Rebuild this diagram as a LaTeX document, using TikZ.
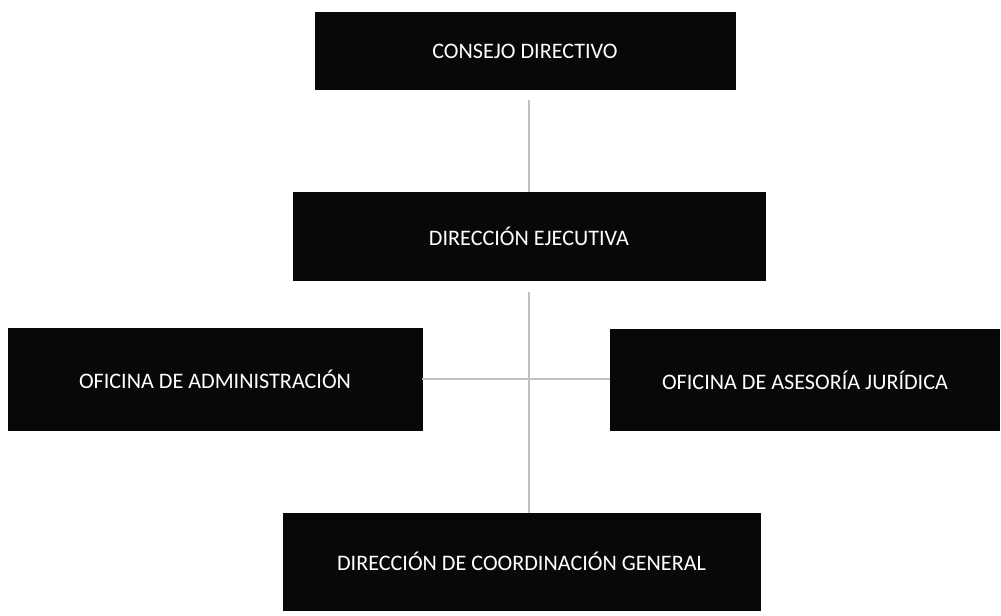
\documentclass[tikz,border=0pt]{standalone}
\usepackage{fontspec}
\setmainfont{Carlito}
\definecolor{orgblack}{RGB}{8, 8, 8}
\definecolor{linkgray}{RGB}{192, 192, 192}
\usetikzlibrary{positioning, calc}

\begin{document}
\begin{tikzpicture}
  \tikzset{
    orgbox/.style={draw=orgblack, fill=orgblack, text=white, inner sep=0pt, align=center,
      font=\fontsize{12.6}{14}\selectfont},
    link/.style={draw=linkgray, line width=1.6pt}
  }
  \useasboundingbox (0,0) rectangle (20.02,-12.32);

  % boxes
  \node[orgbox, minimum width=8.4cm, minimum height=1.54cm] (cd) at (10.5,-1.02) {CONSEJO DIRECTIVO};
  \node[orgbox, minimum width=9.44cm, minimum height=1.76cm] (de) at (10.58,-4.72) {DIRECCIÓN EJECUTIVA};
  \node[orgbox, minimum width=8.28cm, minimum height=2.04cm] (oa) at (4.3,-7.58) {OFICINA DE ADMINISTRACIÓN};
  \node[orgbox, minimum width=7.78cm, minimum height=2.02cm] (oaj) at (16.1,-7.6) {OFICINA DE ASESORÍA JURÍDICA};
  \node[orgbox, minimum width=9.54cm, minimum height=1.94cm] (dcg) at (10.43,-11.23) {DIRECCIÓN DE COORDINACIÓN GENERAL};

  % connectors
  \draw[link, shorten <=0.2cm] (cd.south -| de.north) -- (de.north);
  \draw[link, shorten <=0.24cm] (de.south) -- (de.south |- dcg.north);
  \draw[link] (oa.east) -- (oa.east -| oaj.west);
\end{tikzpicture}
\end{document}
